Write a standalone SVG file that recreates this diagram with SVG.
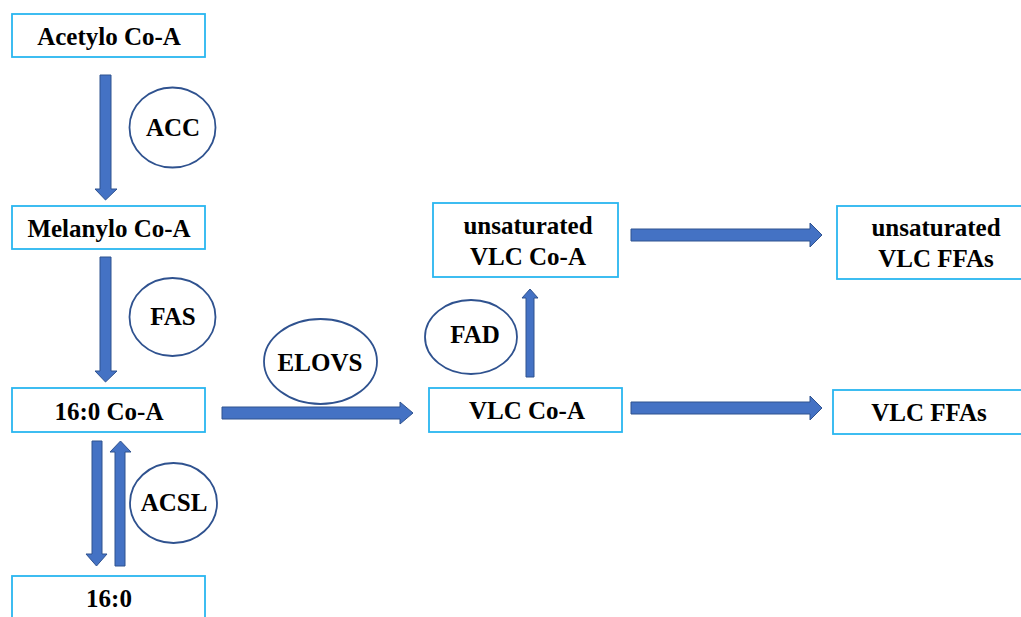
<svg xmlns="http://www.w3.org/2000/svg" width="1021" height="617" viewBox="0 0 1021 617">
<style>
.box{fill:#fff;stroke:#29B6F0;stroke-width:1.8}
.enz{fill:#fff;stroke:#2F528F;stroke-width:1.8}
.arr{fill:#4472C4;stroke:#2F528F;stroke-width:1}
text{font-family:"Liberation Serif","Times New Roman",serif;font-weight:bold;font-size:25px;fill:#000;text-anchor:middle}
</style>
<rect width="1021" height="617" fill="#fff"/>
<g id="connectors">
<polygon class="arr" points="100,75 111,75 111,189 117,189 105.5,200 95,189 100,189"/>
<polygon class="arr" points="100,257 111,257 111,371 117,371 105.5,382 95,371 100,371"/>
<polygon class="arr" points="92,441 102,441 102,554 107,554 96.5,566 86,554 92,554"/>
<polygon class="arr" points="115,566 125,566 125,452 131,452 120.5,441 110,452 115,452"/>
<polygon class="arr" points="222,407 400,407 400,402 413,413 400,424 400,419 222,419"/>
<polygon class="arr" points="526,377 534,377 534,298 538,298 530,289 522,298 526,298"/>
<polygon class="arr" points="631,229 810,229 810,223 822,235 810,247 810,241 631,241"/>
<polygon class="arr" points="631,402 810,402 810,396 822,408 810,420 810,414 631,414"/>
</g>
<g id="acetylo"><rect class="box" x="12" y="14" width="193" height="43"/><text x="109" y="45">Acetylo Co-A</text></g>
<g id="melanylo"><rect class="box" x="12" y="206" width="193" height="43"/><text x="109" y="237">Melanylo Co-A</text></g>
<g id="c160coa"><rect class="box" x="12" y="388" width="193" height="44"/><text x="109" y="420">16:0 Co-A</text></g>
<g id="c160"><rect class="box" x="12" y="576" width="193" height="50"/><text x="109" y="607">16:0</text></g>
<g id="uvlccoa"><rect class="box" x="433" y="203" width="185" height="74"/><text x="528" y="234">unsaturated</text><text x="528" y="265">VLC Co-A</text></g>
<g id="vlccoa"><rect class="box" x="429" y="388" width="193" height="44"/><text x="527" y="419">VLC Co-A</text></g>
<g id="uvlcffa"><rect class="box" x="837" y="206" width="200" height="73"/><text x="936" y="236">unsaturated</text><text x="936" y="267">VLC FFAs</text></g>
<g id="vlcffa"><rect class="box" x="833" y="390" width="200" height="44"/><text x="929" y="421">VLC FFAs</text></g>
<g id="acc"><ellipse class="enz" cx="172.5" cy="127.5" rx="43" ry="40"/><text x="173" y="136">ACC</text></g>
<g id="fas"><ellipse class="enz" cx="172.5" cy="317" rx="43" ry="39"/><text x="173" y="325">FAS</text></g>
<g id="acsl"><ellipse class="enz" cx="173.5" cy="503" rx="43.5" ry="40"/><text x="174" y="511">ACSL</text></g>
<g id="elovs"><ellipse class="enz" cx="320.5" cy="361.5" rx="56.5" ry="42.5"/><text x="320" y="371">ELOVS</text></g>
<g id="fad"><ellipse class="enz" cx="471" cy="337" rx="46" ry="37"/><text x="475" y="343">FAD</text></g>
</svg>
